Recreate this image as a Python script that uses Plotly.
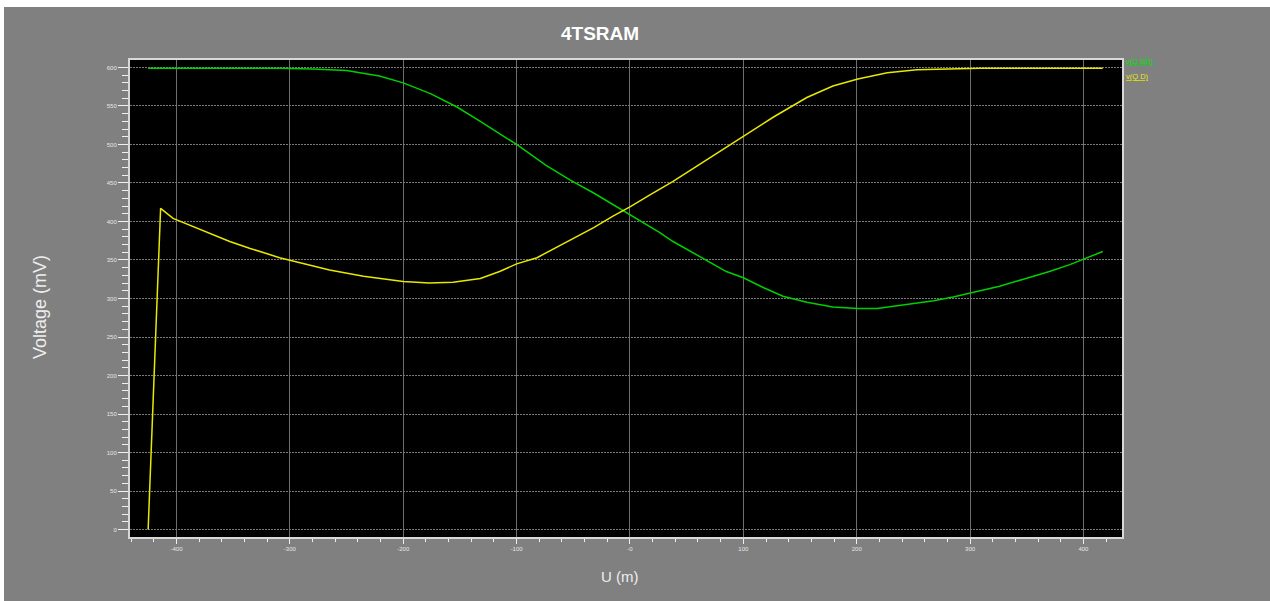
import plotly.graph_objects as go

# ---- data ----
u_qbd = [-425, -400, -350, -309, -280, -250, -221, -200, -176, -153, -132, -115, -100, -74, -53,
         -32, -15, 0, 26, 38, 62, 85, 100, 118, 135, 156, 179, 201, 218, 238, 268, 285, 300,
         326, 347, 370, 388, 402, 417]
v_qbd = [599, 599, 599, 599, 598, 596, 589, 580, 566, 549, 530, 514, 500, 473, 454,
         437, 422, 409, 386, 374, 354, 335, 327, 314, 303, 295, 289, 287, 287, 291, 297, 302, 307,
         316, 325, 335, 344, 352, 361]

u_qd = [-425, -414, -403, -383, -353, -335, -309, -265, -235, -200, -177, -156, -132, -115, -100,
        -82, -56, -32, -15, 0, 18, 38, 59, 79, 101, 127, 156, 179, 201, 227, 253, 277, 309, 350, 417]
v_qd = [0, 417, 404, 392, 374, 365, 353, 337, 329, 322, 320, 321, 326, 335, 345,
        353, 373, 392, 407, 419, 435, 452, 472, 491, 511, 536, 561, 576, 585, 593, 597, 598, 599, 599, 599]

x_tickvals = [-400, -300, -200, -100, 0, 100, 200, 300, 400]
x_ticktext = ["-400", "-300", "-200", "-100", "-0", "100", "200", "300", "400"]
y_tickvals = [0, 50, 100, 150, 200, 250, 300, 350, 400, 450, 500, 550, 600]

title_text = "4TSRAM"
x_title = "U (m)"
y_title = "Voltage (mV)"
legend_names = ["v(Q BD)", "v(Q D)"]
colors = ["#00d000", "#e8e800"]

W, H = 1270, 601
L, R, T, B = 130, 148, 60, 64
PW, PH = W - L - R, H - T - B


def px(x):
    return (x - L) / PW


def py(y):
    return (H - B - y) / PH


fig = go.Figure()
fig.add_trace(go.Scatter(x=u_qbd, y=v_qbd, mode="lines", name=legend_names[0],
                         line=dict(color=colors[0], width=1.5), hoverinfo="skip"))
fig.add_trace(go.Scatter(x=u_qd, y=v_qd, mode="lines", name=legend_names[1],
                         line=dict(color=colors[1], width=1.5), hoverinfo="skip"))

tick_font = dict(family="Liberation Sans, Arial, sans-serif", size=6, color="#e6e6e6")
axis_common = dict(showline=True, linecolor="#d8d8d8", linewidth=2, mirror=True,
                   zeroline=False, ticks="outside", tickcolor="#f0f0f0", tickwidth=1,
                   tickfont=tick_font)

fig.update_xaxes(range=[-441, 434], tickmode="array", tickvals=x_tickvals, ticktext=x_ticktext,
                 ticklen=5, showgrid=True, gridcolor="#6e6e6e", gridwidth=1,
                 minor=dict(tickmode="linear", tick0=0, dtick=20, ticklen=3, ticks="outside",
                            tickcolor="#f0f0f0", showgrid=False),
                 **axis_common)
fig.update_yaxes(range=[-9.7, 609.7], tickmode="array", tickvals=y_tickvals,
                 ticklen=10, showgrid=True, gridcolor="#7a7a7a", gridwidth=1, griddash="2px,1px",
                 minor=dict(tickmode="linear", tick0=0, dtick=10, ticklen=6, ticks="outside",
                            tickcolor="#f0f0f0", showgrid=False),
                 **axis_common)

annotations = [
    dict(text="<b>%s</b>" % title_text, x=px(600), y=py(33), xref="paper", yref="paper",
         showarrow=False, xanchor="center", yanchor="middle",
         font=dict(family="Liberation Sans, Arial, sans-serif", size=19, color="#ffffff")),
    dict(text=x_title, x=px(620), y=py(576), xref="paper", yref="paper",
         showarrow=False, xanchor="center", yanchor="middle",
         font=dict(family="Liberation Sans, Arial, sans-serif", size=15, color="#eeeeee")),
    dict(text=y_title, x=px(40), y=py(307), xref="paper", yref="paper", textangle=-90,
         showarrow=False, xanchor="center", yanchor="middle",
         font=dict(family="Liberation Sans, Arial, sans-serif", size=18, color="#eeeeee")),
    dict(text="<u>%s</u>" % legend_names[0], x=px(1124), y=py(62), xref="paper", yref="paper",
         showarrow=False, xanchor="left", yanchor="middle",
         font=dict(family="Liberation Sans, Arial, sans-serif", size=7.5, color="#00e000")),
    dict(text="<u>%s</u>" % legend_names[1], x=px(1124), y=py(77), xref="paper", yref="paper",
         showarrow=False, xanchor="left", yanchor="middle",
         font=dict(family="Liberation Sans, Arial, sans-serif", size=7.5, color=colors[1])),
]

shapes = [
    dict(type="rect", xref="paper", yref="paper", x0=px(-5), x1=px(W + 5), y0=py(7), y1=py(-5),
         fillcolor="#ffffff", line=dict(width=0), layer="above"),
    dict(type="rect", xref="paper", yref="paper", x0=px(-5), x1=px(4), y0=py(H + 5), y1=py(-5),
         fillcolor="#ffffff", line=dict(width=0), layer="above"),
]

fig.update_layout(
    width=W, height=H, autosize=False,
    margin=dict(l=L, r=R, t=T, b=B, pad=0),
    paper_bgcolor="#808080", plot_bgcolor="#000000",
    showlegend=False,
    annotations=annotations, shapes=shapes,
)

fig.write_html("out.html")
